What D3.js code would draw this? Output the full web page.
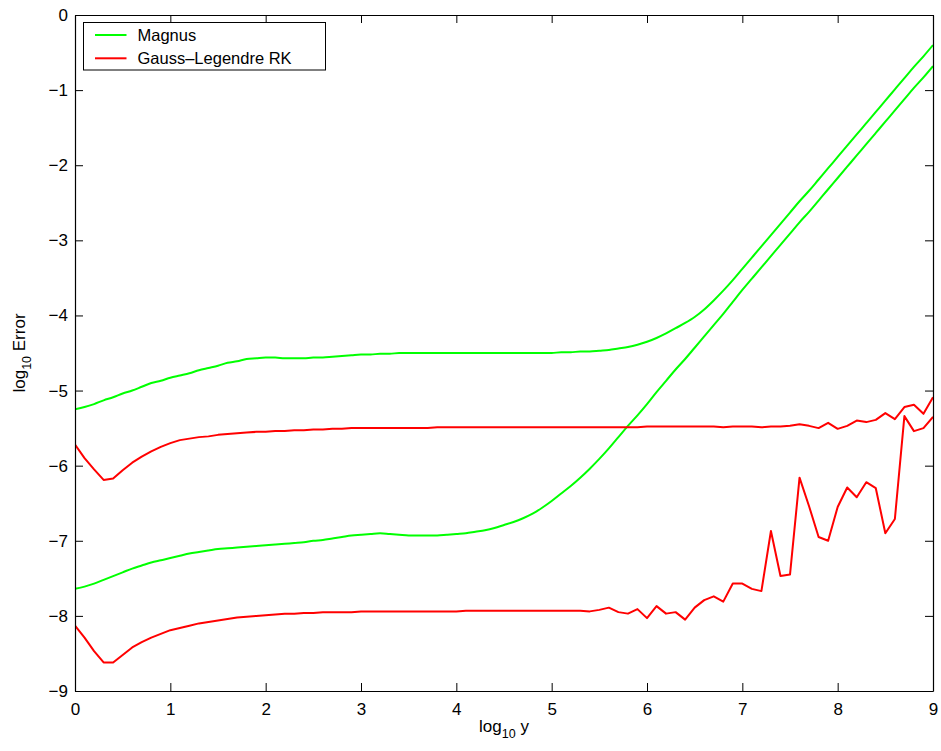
<!DOCTYPE html>
<html lang="en">
<head>
  <meta charset="UTF-8">
  <title>log10 Error vs log10 y</title>
  <style>
    body {
      margin: 0;
      background: #ffffff;
      font-family: "Liberation Sans", Arial, sans-serif;
    }
    svg text {
      font-family: "Liberation Sans", Arial, sans-serif;
      fill: #000;
    }
  </style>
</head>
<body>
  <svg id="chart"></svg>

  <script src="https://d3js.org/d3.v7.min.js"></script>
  <script>
    const width = 941;
    const height = 751;
    const margin = { top: 15, right: 7, bottom: 60, left: 75 };

    // x positions of the samples (log10 y), 0 to 9 step 0.1
    const xs = d3.range(91).map(i => i / 10);

    // Magnus, upper curve
    const magnusUpper = [
      -5.25, -5.22, -5.18, -5.13, -5.09, -5.04, -5.00, -4.95, -4.90, -4.87,
      -4.83, -4.80, -4.77, -4.73, -4.70, -4.67, -4.63, -4.61, -4.58, -4.57,
      -4.56, -4.56, -4.57, -4.57, -4.57, -4.56, -4.56, -4.55, -4.54, -4.53,
      -4.52, -4.52, -4.51, -4.51, -4.50, -4.50, -4.50, -4.50, -4.50, -4.50,
      -4.50, -4.50, -4.50, -4.50, -4.50, -4.50, -4.50, -4.50, -4.50, -4.50,
      -4.50, -4.49, -4.49, -4.48, -4.48, -4.47, -4.46, -4.44, -4.42, -4.39,
      -4.35, -4.30, -4.24, -4.17, -4.10, -4.02, -3.92, -3.80, -3.67, -3.53,
      -3.38, -3.23, -3.08, -2.93, -2.78, -2.63, -2.48, -2.34, -2.19, -2.04,
      -1.89, -1.74, -1.59, -1.44, -1.29, -1.14, -0.99, -0.84, -0.69, -0.55,
      -0.40
    ];

    // Magnus, lower curve
    const magnusLower = [
      -7.64, -7.61, -7.57, -7.52, -7.47, -7.42, -7.37, -7.33, -7.29, -7.26,
      -7.23, -7.20, -7.17, -7.15, -7.13, -7.11, -7.10, -7.09, -7.08, -7.07,
      -7.06, -7.05, -7.04, -7.03, -7.02, -7.00, -6.99, -6.97, -6.95, -6.93,
      -6.92, -6.91, -6.90, -6.91, -6.92, -6.93, -6.93, -6.93, -6.93, -6.92,
      -6.91, -6.90, -6.88, -6.86, -6.83, -6.79, -6.75, -6.70, -6.64, -6.56,
      -6.47, -6.37, -6.27, -6.16, -6.04, -5.91, -5.77, -5.62, -5.47, -5.33,
      -5.18, -5.02, -4.87, -4.72, -4.58, -4.43, -4.28, -4.13, -3.98, -3.82,
      -3.66, -3.51, -3.36, -3.21, -3.06, -2.91, -2.76, -2.62, -2.47, -2.32,
      -2.17, -2.02, -1.87, -1.72, -1.57, -1.42, -1.27, -1.12, -0.97, -0.83,
      -0.68
    ];

    // Gauss-Legendre RK, upper curve
    const gaussUpper = [
      -5.72, -5.90, -6.05, -6.19, -6.17, -6.06, -5.96, -5.88, -5.81, -5.75,
      -5.70, -5.66, -5.64, -5.62, -5.61, -5.59, -5.58, -5.57, -5.56, -5.55,
      -5.55, -5.54, -5.54, -5.53, -5.53, -5.52, -5.52, -5.51, -5.51, -5.50,
      -5.50, -5.50, -5.50, -5.50, -5.50, -5.50, -5.50, -5.50, -5.49, -5.49,
      -5.49, -5.49, -5.49, -5.49, -5.49, -5.49, -5.49, -5.49, -5.49, -5.49,
      -5.49, -5.49, -5.49, -5.49, -5.49, -5.49, -5.49, -5.49, -5.49, -5.49,
      -5.48, -5.48, -5.48, -5.48, -5.48, -5.48, -5.48, -5.48, -5.49, -5.48,
      -5.48, -5.48, -5.49, -5.48, -5.48, -5.47, -5.45, -5.47, -5.50, -5.43,
      -5.51, -5.47, -5.40, -5.42, -5.39, -5.30, -5.38, -5.22, -5.19, -5.31,
      -5.09
    ];

    // Gauss-Legendre RK, lower curve
    const gaussLower = [
      -8.13, -8.29, -8.47, -8.62, -8.62, -8.52, -8.42, -8.35, -8.29, -8.24,
      -8.19, -8.16, -8.13, -8.10, -8.08, -8.06, -8.04, -8.02, -8.01, -8.00,
      -7.99, -7.98, -7.97, -7.97, -7.96, -7.96, -7.95, -7.95, -7.95, -7.95,
      -7.94, -7.94, -7.94, -7.94, -7.94, -7.94, -7.94, -7.94, -7.94, -7.94,
      -7.94, -7.93, -7.93, -7.93, -7.93, -7.93, -7.93, -7.93, -7.93, -7.93,
      -7.93, -7.93, -7.93, -7.93, -7.94, -7.92, -7.89, -7.95, -7.97, -7.91,
      -8.03, -7.87, -7.97, -7.95, -8.05, -7.89, -7.79, -7.74, -7.81, -7.57,
      -7.57, -7.64, -7.67, -6.87, -7.47, -7.45, -6.16, -6.54, -6.95, -7.00,
      -6.55, -6.29, -6.42, -6.22, -6.30, -6.90, -6.71, -5.34, -5.54, -5.50,
      -5.35
    ];

    const xTicks = [0, 1, 2, 3, 4, 5, 6, 7, 8, 9];
    const yTicks = [0, -1, -2, -3, -4, -5, -6, -7, -8, -9];

    const series = [
      { name: "Magnus", color: "#00ff00", values: magnusUpper, smooth: true },
      { name: "Magnus", color: "#00ff00", values: magnusLower, smooth: true },
      { name: "Gauss\u2013Legendre RK", color: "#ff0000", values: gaussUpper, smooth: false },
      { name: "Gauss\u2013Legendre RK", color: "#ff0000", values: gaussLower, smooth: false }
    ];
    const legendItems = [
      { name: "Magnus", color: "#00ff00" },
      { name: "Gauss\u2013Legendre RK", color: "#ff0000" }
    ];

    const svg = d3.select("#chart").attr("width", width).attr("height", height);

    const x = d3.scaleLinear().domain([0, 9]).range([margin.left, width - margin.right - 1]);
    const y = d3.scaleLinear().domain([-9, 0]).range([height - margin.bottom, margin.top]);

    const fontSize = "17px";
    const legendFont = "16.5px";
    const subSize = "12.5px";
    const tickLen = 8;

    // clip so the curves stay inside the box
    svg.append("clipPath").attr("id", "plotClip")
      .append("rect")
      .attr("x", x(0)).attr("y", y(0))
      .attr("width", x(9) - x(0)).attr("height", y(-9) - y(0));

    const lineSmooth = d3.line()
      .x((d, i) => x(xs[i]))
      .y(d => y(d))
      .curve(d3.curveMonotoneX);
    const lineStraight = d3.line()
      .x((d, i) => x(xs[i]))
      .y(d => y(d));

    svg.append("g")
      .attr("clip-path", "url(#plotClip)")
      .selectAll("path")
      .data(series)
      .enter().append("path")
      .attr("fill", "none")
      .attr("stroke", d => d.color)
      .attr("stroke-width", 2)
      .attr("stroke-linejoin", "round")
      .attr("d", d => (d.smooth ? lineSmooth : lineStraight)(d.values));

    // axes, MATLAB style: ticks inside, box all round
    const bottomAxis = svg.append("g")
      .attr("transform", `translate(0,${y(-9)})`)
      .call(d3.axisBottom(x).tickValues(xTicks).tickSizeInner(-tickLen).tickSizeOuter(0).tickPadding(12));
    const topAxis = svg.append("g")
      .attr("transform", `translate(0,${y(0)})`)
      .call(d3.axisTop(x).tickValues(xTicks).tickSizeInner(-tickLen).tickSizeOuter(0).tickFormat(""));
    const leftAxis = svg.append("g")
      .attr("transform", `translate(${x(0)},0)`)
      .call(d3.axisLeft(y).tickValues(yTicks).tickSizeInner(-tickLen).tickSizeOuter(0).tickPadding(7));
    const rightAxis = svg.append("g")
      .attr("transform", `translate(${x(9)},0)`)
      .call(d3.axisRight(y).tickValues(yTicks).tickSizeInner(-tickLen).tickSizeOuter(0).tickFormat(""));

    [bottomAxis, topAxis, leftAxis, rightAxis].forEach(g => {
      g.select(".domain").attr("stroke", "#000").attr("stroke-width", 1.2);
      g.selectAll(".tick line").attr("stroke", "#000").attr("stroke-width", 1);
      g.selectAll(".tick text")
        .style("font-size", fontSize)
        .style("font-family", "'Liberation Sans', Arial, sans-serif")
        .attr("fill", "#000");
    });

    // axis labels
    const xLabel = svg.append("text")
      .attr("x", (x(0) + x(9)) / 2)
      .attr("y", 732)
      .attr("text-anchor", "middle")
      .style("font-size", fontSize);
    xLabel.append("tspan").text("log");
    xLabel.append("tspan").attr("dy", 6).style("font-size", subSize).text("10");
    xLabel.append("tspan").attr("dy", -6).text(" y");

    const yLabel = svg.append("text")
      .attr("transform", `translate(25,${(y(0) + y(-9)) / 2}) rotate(-90)`)
      .attr("text-anchor", "middle")
      .style("font-size", fontSize);
    yLabel.append("tspan").text("log");
    yLabel.append("tspan").attr("dy", 6).style("font-size", subSize).text("10");
    yLabel.append("tspan").attr("dy", -6).text(" Error");

    // legend
    const legend = svg.append("g").attr("transform", "translate(83.5,22.5)");
    legend.append("rect")
      .attr("width", 242).attr("height", 47.5)
      .attr("fill", "#fff").attr("stroke", "#000").attr("stroke-width", 1);
    const rows = legend.selectAll("g.row")
      .data(legendItems)
      .enter().append("g")
      .attr("class", "row")
      .attr("transform", (d, i) => `translate(0,${12.5 + i * 23.3})`);
    rows.append("line")
      .attr("x1", 11.5).attr("x2", 43)
      .attr("stroke", d => d.color).attr("stroke-width", 2);
    rows.append("text")
      .attr("x", 54).attr("dy", "0.35em")
      .style("font-size", legendFont)
      .text(d => d.name);
  </script>
</body>
</html>
